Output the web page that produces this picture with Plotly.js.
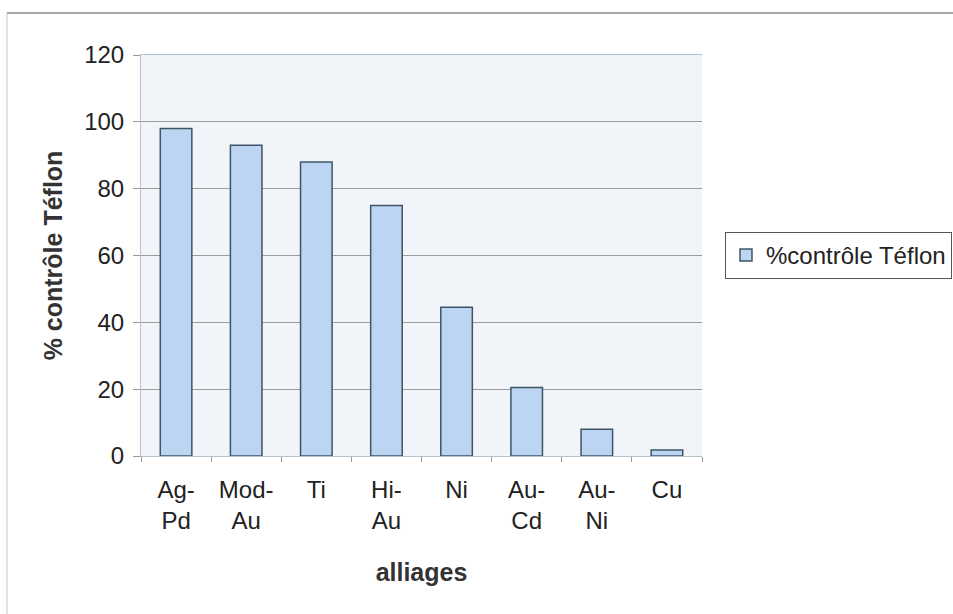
<!DOCTYPE html>
<html>
<head>
<meta charset="utf-8">
<script src="https://cdn.plot.ly/plotly-3.0.1.min.js"></script>
<style>html,body{margin:0;padding:0;background:#fff;}#chart{width:953px;height:614px;}</style>
</head>
<body>
<div id="chart"></div>
<script>
const categories = ["Ag-<br>Pd", "Mod-<br>Au", "Ti", "Hi-<br>Au", "Ni", "Au-<br>Cd", "Au-<br>Ni", "Cu"];
const values = [98, 93, 88, 75, 44.5, 20.5, 8, 1.8];
const seriesName = "%contrôle Téflon";
const yTicks = [0, 20, 40, 60, 80, 100, 120];

const trace = {
  type: "bar",
  x: categories,
  y: values,
  name: seriesName,
  showlegend: true,
  marker: {color: "#bcd5f2", line: {color: "#3f5566", width: 1.5}},
  hoverinfo: "x+y"
};

const font = "Arial, 'Liberation Sans', sans-serif";
const layout = {
  width: 953, height: 614,
  margin: {l: 141, r: 251, t: 55, b: 158, pad: 0, autoexpand: false},
  paper_bgcolor: "#ffffff",
  plot_bgcolor: "#f1f5fa",
  bargap: 0.55,
  font: {family: font, size: 24, color: "#222"},
  xaxis: {
    type: "category",
    automargin: false,
    tickson: "boundaries",
    ticks: "outside", ticklen: 5, tickcolor: "#999",
    showline: true, linecolor: "#b4c2cc", mirror: true, linewidth: 1,
    showgrid: false,
    tickfont: {family: font, size: 24, color: "#222"},
    ticklabelstandoff: 12,
    title: {text: "<b>alliages</b>", font: {family: font, size: 25, color: "#333"}, standoff: 30}
  },
  yaxis: {
    range: [0, 120],
    automargin: false,
    tickvals: yTicks,
    ticks: "outside", ticklen: 7, tickcolor: "#999",
    showline: true, linecolor: "#b4c2cc", linewidth: 1,
    showgrid: true, gridcolor: "#9c9c9c", gridwidth: 1,
    zeroline: false,
    tickfont: {family: font, size: 24, color: "#222"},
    ticklabelstandoff: 4,
    title: {text: "<b>% contrôle Téflon</b>", font: {family: font, size: 25, color: "#333"}, standoff: 14}
  },
  legend: {
    x: 1.041, xanchor: "left", y: 0.5, yanchor: "middle",
    bordercolor: "#555", borderwidth: 1, bgcolor: "#ffffff",
    font: {family: font, size: 24, color: "#222"}
  },
  shapes: [
    {type: "line", xref: "paper", yref: "paper", x0: -0.2389, x1: 1.5, y0: 1.1047, y1: 1.1047, line: {color: "#8a8a8a", width: 1.5}},
    {type: "line", xref: "paper", yref: "paper", x0: -0.2389, x1: -0.2389, y0: 1.1047, y1: -0.45, line: {color: "#c4c4c4", width: 1}}
  ]
};

Plotly.newPlot("chart", [trace], layout, {displayModeBar: false, staticPlot: true});
</script>
</body>
</html>
